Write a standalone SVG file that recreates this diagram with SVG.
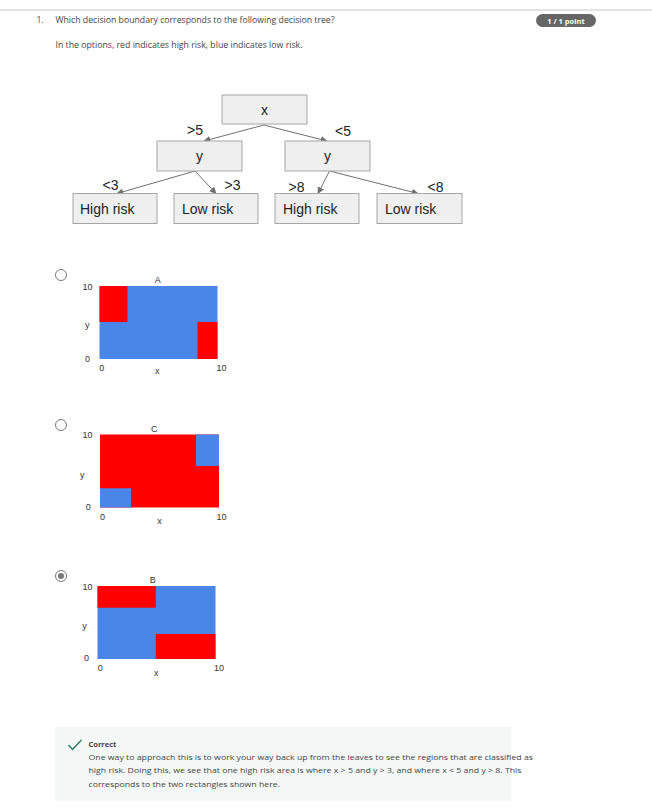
<svg xmlns="http://www.w3.org/2000/svg" width="652" height="811" viewBox="0 0 652 811">
<style>
.ui{font-family:"Open Sans","Noto Sans",sans-serif;fill:#444;}
.q{font-size:8.5px;}
.fb{font-size:8px;fill:#444;}
.box{fill:#efefef;stroke:#a6a6a6;stroke-width:1;}
.t{font-family:"Liberation Sans",Arial,sans-serif;font-size:14px;fill:#222;}
.edge{stroke:#707070;stroke-width:1;fill:none;marker-end:url(#ah);}
.ax{font-family:"Liberation Sans",Arial,sans-serif;font-size:9px;fill:#333;}
.blue{fill:#4a86e8;}
.red{fill:#ff0000;}
.radio{fill:#fff;stroke:#777;stroke-width:1;}
</style>
<defs>
<marker id="ah" viewBox="0 0 10 10" refX="9" refY="5" markerWidth="7" markerHeight="7" orient="auto" markerUnits="userSpaceOnUse">
<path d="M0,0 L10,5 L0,10 z" fill="#707070"/>
</marker>
</defs>
<rect width="652" height="811" fill="#fff"/>
<line x1="0" y1="10" x2="652" y2="10" stroke="#c8c8c8" stroke-width="1"/>
<g id="header">
<text class="ui q" x="36.5" y="23">1.</text>
<text class="ui q" x="55.5" y="23" textLength="279" lengthAdjust="spacingAndGlyphs">Which decision boundary corresponds to the following decision tree?</text>
<text class="ui q" x="55.5" y="48" textLength="247" lengthAdjust="spacingAndGlyphs">In the options, red indicates high risk, blue indicates low risk.</text>
<rect x="536" y="14" width="60" height="13" rx="6.5" fill="#666"/>
<text x="566" y="23.5" text-anchor="middle" font-family="'Open Sans','Noto Sans',sans-serif" font-size="7.5" font-weight="bold" fill="#fff">1 / 1 point</text>
</g>
<g id="connectors">
<line class="edge" x1="264" y1="125" x2="204" y2="141"/>
<line class="edge" x1="264" y1="125" x2="327" y2="141"/>
<line class="edge" x1="195" y1="171" x2="117" y2="193.5"/>
<line class="edge" x1="195" y1="171" x2="216" y2="193.5"/>
<line class="edge" x1="329.5" y1="171" x2="318" y2="193.5"/>
<line class="edge" x1="329.5" y1="171" x2="418" y2="193.5"/>
<text class="t" x="187" y="135">&gt;5</text>
<text class="t" x="335" y="135.5">&lt;5</text>
<text class="t" x="102.5" y="190">&lt;3</text>
<text class="t" x="224.5" y="190">&gt;3</text>
<text class="t" x="288.5" y="191.5">&gt;8</text>
<text class="t" x="427.5" y="191.5">&lt;8</text>
</g>
<g id="root">
<rect class="box" x="222" y="95" width="85" height="29"/>
<text class="t" x="264.5" y="115" text-anchor="middle">x</text>
</g>
<g id="y_left">
<rect class="box" x="157" y="141" width="85" height="30"/>
<text class="t" x="199.5" y="161" text-anchor="middle">y</text>
</g>
<g id="y_right">
<rect class="box" x="285" y="141" width="85" height="30"/>
<text class="t" x="327.5" y="161" text-anchor="middle">y</text>
</g>
<g id="leaf_high1">
<rect class="box" x="73" y="193.5" width="84" height="30"/>
<text class="t" x="80" y="214">High risk</text>
</g>
<g id="leaf_low1">
<rect class="box" x="174" y="193.5" width="84" height="30"/>
<text class="t" x="182" y="214">Low risk</text>
</g>
<g id="leaf_high2">
<rect class="box" x="275" y="193.5" width="84" height="30"/>
<text class="t" x="283" y="214">High risk</text>
</g>
<g id="leaf_low2">
<rect class="box" x="377" y="193.5" width="85" height="30"/>
<text class="t" x="385" y="214">Low risk</text>
</g>
<g id="optionA">
<circle class="radio" cx="61" cy="275" r="5.5"/>
<rect class="blue" x="99.5" y="286" width="118" height="73"/>
<rect class="red" x="99.5" y="286" width="28" height="36"/>
<rect class="red" x="197.5" y="322" width="20" height="37"/>
<text class="ax" x="157.7" y="283" text-anchor="middle">A</text>
<text class="ax" x="82.5" y="290">10</text>
<text class="ax" x="85" y="328">y</text>
<text class="ax" x="85" y="361.5">0</text>
<text class="ax" x="99.3" y="371">0</text>
<text class="ax" x="155" y="373.5">x</text>
<text class="ax" x="216.5" y="371">10</text>
</g>
<g id="optionC">
<circle class="radio" cx="61" cy="425" r="5.5"/>
<rect class="red" x="100" y="434.5" width="119" height="73"/>
<rect class="blue" x="196" y="434.5" width="23" height="31.5"/>
<rect class="blue" x="100" y="488.3" width="31" height="19.2"/>
<text class="ax" x="154.3" y="432" text-anchor="middle">C</text>
<text class="ax" x="82.5" y="438.3">10</text>
<text class="ax" x="80" y="477.7">y</text>
<text class="ax" x="85.7" y="510">0</text>
<text class="ax" x="100" y="520">0</text>
<text class="ax" x="157.3" y="524.3">x</text>
<text class="ax" x="216.5" y="520">10</text>
</g>
<g id="optionB">
<circle class="radio" cx="61" cy="576" r="5.5"/>
<circle cx="61" cy="576" r="3" fill="#777"/>
<rect class="blue" x="97.5" y="586" width="118" height="73"/>
<rect class="red" x="97.5" y="586" width="58.3" height="21.7"/>
<rect class="red" x="155.8" y="634" width="59.7" height="25"/>
<text class="ax" x="152.7" y="583.3" text-anchor="middle">B</text>
<text class="ax" x="82.5" y="590">10</text>
<text class="ax" x="82.3" y="629.3">y</text>
<text class="ax" x="84" y="661">0</text>
<text class="ax" x="97.7" y="671">0</text>
<text class="ax" x="154" y="675.7">x</text>
<text class="ax" x="214" y="671">10</text>
</g>
<g id="feedback">
<rect x="55" y="727" width="456.5" height="73.5" fill="#f3f8f6"/>
<polyline points="68.5,745 72.5,749.5 81.5,740" fill="none" stroke="#2d7d63" stroke-width="1.5"/>
<text class="ui" x="88.5" y="746.5" font-size="7.5" font-weight="bold" fill="#333">Correct</text>
<text class="ui fb" x="88.5" y="760" textLength="444.5" lengthAdjust="spacingAndGlyphs">One way to approach this is to work your way back up from the leaves to see the regions that are classified as</text>
<text class="ui fb" x="88.5" y="773.3" textLength="433" lengthAdjust="spacingAndGlyphs">high risk. Doing this, we see that one high risk area is where x &gt; 5 and y &gt; 3, and where x &lt; 5 and y &gt; 8. This</text>
<text class="ui fb" x="88.5" y="786.5" textLength="191.5" lengthAdjust="spacingAndGlyphs">corresponds to the two rectangles shown here.</text>
</g>
</svg>
